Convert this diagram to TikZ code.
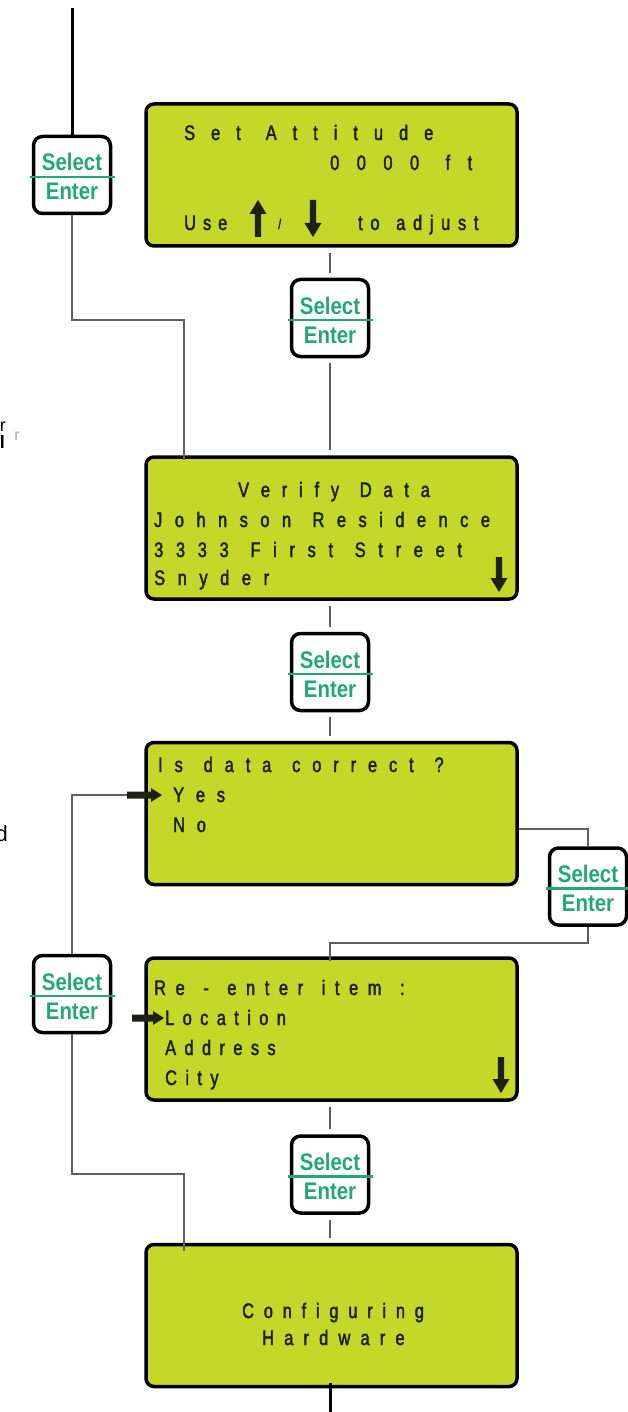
\documentclass[tikz,border=0pt]{standalone}
\usepackage{fontspec}
\setmainfont{Liberation Sans}
\newfontfamily\lcdfont[FakeStretch=0.78, FakeBold=2]{Liberation Sans}
\newfontfamily\keyfont[FakeStretch=0.85]{Liberation Sans}
\definecolor{lcdgreen}{RGB}{197,215,40}
\definecolor{lcdink}{RGB}{30,32,20}
\definecolor{keygreen}{RGB}{34,168,120}
\definecolor{wire}{RGB}{95,95,95}

% LCD lines are set on a loose pitch: every character is followed by a
% fixed gap, and \wsp adds a fixed extra space between words
\newlength\lcdgap
\newcommand\wsp{}
\def\lcdspread#1{%
  \ifx#1\relax
  \else
    \ifx#1\wsp\hspace*{9pt}\else#1\kern\lcdgap\fi
    \expandafter\lcdspread
  \fi}

% one line of LCD text: name, x, baseline, gap (pt), text
\newcommand\lcdline[5]{%
  \setlength\lcdgap{#4pt}%
  \node[lcdtext] (#1) at (#2,#3) {\lcdspread#5\relax};}

% a Select/Enter key: name, centre x, centre y
\newcommand\selkey[3]{%
  \node[keybox] (#1) at (#2,#3) {};
  \draw[keygreen, line width=2.8] ([xshift=-2]#1.west |- #2,#3+2) -- ([xshift=3]#1.east |- #2,#3+2);
  \node[keytext, anchor=base] (#1-sel) at (#2,#3-4) {Select};
  \node[keytext, anchor=base] (#1-ent) at (#2,#3+25) {Enter};}

% thick LCD arrows: centre x, tip y, tail y
\newcommand\lcdup[3]{%
  \fill[lcdink] (#1,#2) -- (#1+8.5,#2+14) -- (#1+3.2,#2+14) -- (#1+3.2,#3) -- (#1-3.2,#3) -- (#1-3.2,#2+14) -- (#1-8.5,#2+14) -- cycle;}
\newcommand\lcddown[3]{%
  \fill[lcdink] (#1,#2) -- (#1+8.5,#2-14) -- (#1+3.2,#2-14) -- (#1+3.2,#3) -- (#1-3.2,#3) -- (#1-3.2,#2-14) -- (#1-8.5,#2-14) -- cycle;}
% cursor arrow pointing right: tail x, tip x, y
\newcommand\lcdright[3]{%
  \fill[lcdink] (#2,#3) -- (#2-11,#3-7) -- (#2-11,#3-3.5) -- (#1,#3-3.5) -- (#1,#3+3.5) -- (#2-11,#3+3.5) -- (#2-11,#3+7) -- cycle;}

\begin{document}
\begin{tikzpicture}[x=1pt, y=-1pt,
  lcd/.style={draw=black, line width=3.5, fill=lcdgreen, rounded corners=8,
    minimum width=371, minimum height=142, inner sep=0},
  keybox/.style={draw=black, line width=3.5, fill=white, rounded corners=9,
    minimum width=77, minimum height=77, inner sep=0},
  keytext/.style={inner sep=0, text=keygreen, font=\keyfont\bfseries\fontsize{24}{26}\selectfont},
  lcdtext/.style={anchor=base west, inner sep=0, text=lcdink, font=\lcdfont\fontsize{21}{23}\selectfont},
  wireline/.style={draw=wire, line width=1.5},
  stem/.style={draw=wire, line width=2.4, shorten <=5, shorten >=5},
  trunk/.style={draw=black, line width=3}]
\useasboundingbox (0,0) rectangle (628,1412);

% stray fragments at the left margin
\node[anchor=base east, inner sep=0, font=\fontsize{18}{20}\selectfont] (fr1) at (6,431) {r};
\node[anchor=base east, inner sep=0, font=\bfseries\fontsize{18}{20}\selectfont] (fr2) at (5,448) {l};
\node[anchor=base east, inner sep=0, text=black!35, font=\fontsize{16}{18}\selectfont] (fr3) at (20,440) {r};
\node[anchor=base east, inner sep=0, font=\fontsize{22}{24}\selectfont] (fr4) at (8,841) {d};

% LCD screens
\node[lcd] (b1) at (331.5,175) {};
\node[lcd] (b2) at (331.5,528) {};
\node[lcd] (b3) at (331.5,813.5) {};
\node[lcd] (b4) at (331.5,1029) {};
\node[lcd] (b5) at (331.5,1315.5) {};

% screen 1
\lcdline{t1a}{184}{140}{16}{Set\wsp Attitude}
\lcdline{t1b}{330}{170}{17.5}{0000\wsp ft}
\lcdline{t1c}{184}{230}{7}{Use}
\node[lcdtext, font=\lcdfont\fontsize{14}{16}\selectfont] (t1d) at (278,229) {/};
\lcdline{t1e}{358}{230}{7.7}{to\wsp adjust}
\lcdup{258}{200}{237}
\lcddown{313}{237}{200}

% screen 2
\lcdline{t2a}{238}{497}{11.8}{Verify\wsp Data}
\lcdline{t2b}{154}{527}{12.5}{Johnson\wsp Residence}
\lcdline{t2c}{154}{557}{12.7}{3333\wsp First\wsp Street}
\lcdline{t2d}{154}{585}{12.6}{Snyder}
\lcddown{499}{592}{557}

% screen 3
\lcdline{t3a}{158}{772}{11.9}{Is\wsp data\wsp correct\wsp ?}
\lcdline{t3b}{173}{802}{11.8}{Yes}
\lcdline{t3c}{173}{832}{11.8}{No}
\lcdright{127}{162}{795}
\coordinate (yescur) at (127,795);

% screen 4
\lcdline{t4a}{154}{995}{9.6}{Re\wsp -\wsp enter\wsp item\wsp :}
\lcdline{t4b}{165}{1025}{8.4}{Location}
\lcdline{t4c}{165}{1055}{8.4}{Address}
\lcdline{t4d}{165}{1085}{8.4}{City}
\lcdright{132}{164}{1018}
\lcddown{501}{1093}{1057}

% screen 5
\lcdline{t5a}{242}{1318}{9.8}{Configuring}
\lcdline{t5b}{262}{1345}{10.2}{Hardware}

% keys
\selkey{k1}{72}{175}
\selkey{k2}{330}{318}
\selkey{k3}{330}{672}
\selkey{k4}{588}{886.5}
\selkey{k5}{72}{994}
\selkey{k6}{330}{1174.5}

% entry and exit
\coordinate (top) at (72,8);
\coordinate (bot) at (330,1412);
\draw[trunk] (top) -- (k1.north);
\draw[trunk] ([yshift=5]b5.south -| bot) -- (bot);

% main column
\draw[stem] (b1.south -| k2) -- (k2.north);
\draw[stem] (k2.south) -- (b2.north -| k2);
\draw[stem] (b2.south -| k3) -- (k3.north);
\draw[stem] (k3.south) -- (b3.north -| k3);
\draw[stem] (b4.south -| k6) -- (k6.north);
\draw[stem] (k6.south) -- (b5.north -| k6);

% side loops
\draw[wireline] (k1.south) -- (72,320) -- (184,320) -- ([yshift=-5]b2.north -| 184,0);
\draw[wireline] (k5.north) |- (yescur);
\draw[wireline] (k5.south) -- (72,1174) -- (184,1174) -- ([yshift=-8]b5.north -| 184,0);
\draw[wireline] (b3.east |- 0,829) -| (k4.north);
\draw[wireline] (k4.south) |- (330,943) -- ([yshift=-5]b4.north -| 330,0);
\end{tikzpicture}
\end{document}
